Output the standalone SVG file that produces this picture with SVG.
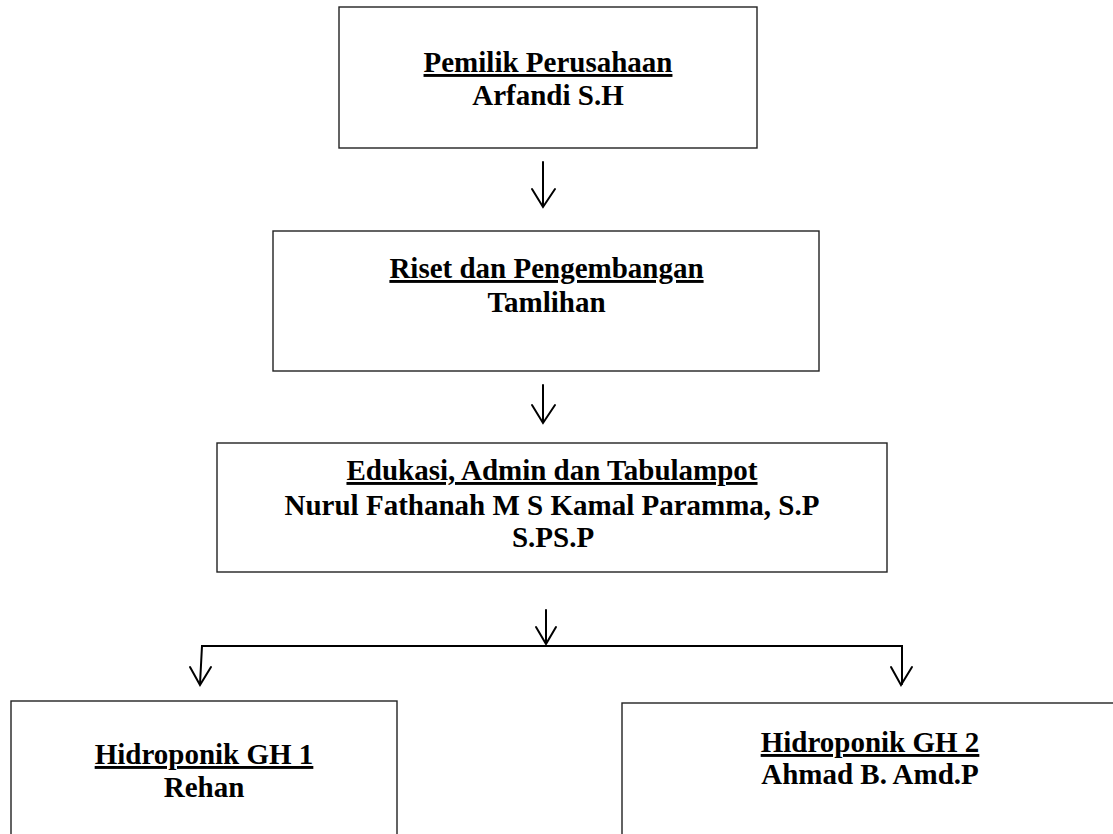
<svg xmlns="http://www.w3.org/2000/svg" width="1113" height="834" viewBox="0 0 1113 834">
<style>
.box{fill:#fff;stroke:#222;stroke-width:1.4}
.t{font-family:"Liberation Serif","Times New Roman",serif;font-weight:bold;font-size:29px;fill:#000;text-anchor:middle}
.u{text-decoration:underline}
.c{fill:none;stroke:#000;stroke-width:2;stroke-linecap:round;stroke-linejoin:miter}
</style>
<rect width="1113" height="834" fill="#fff"/>
<g id="connectors">
<path class="c" d="M543 162 V206 M532 189 L543 207 L555 189"/>
<path class="c" d="M543 385 V422 M532 405 L543 423 L555 405"/>
<path class="c" d="M546 610 V643 M536 627 L546 644 L556 627"/>
<path class="c" d="M200 684 L202 646 H902 V684"/>
<path class="c" d="M190 667 L200 685 L211 667"/>
<path class="c" d="M891 667 L901 685 L912 667"/>
</g>
<g id="pemilik">
<rect class="box" x="339" y="7" width="418" height="141"/>
<text class="t u" x="548" y="72">Pemilik Perusahaan</text>
<text class="t" x="548" y="105">Arfandi S.H</text>
</g>
<g id="riset">
<rect class="box" x="273" y="231" width="546" height="140"/>
<text class="t u" x="546.5" y="278">Riset dan Pengembangan</text>
<text class="t" x="546.5" y="312">Tamlihan</text>
</g>
<g id="edukasi">
<rect class="box" x="217" y="443" width="670" height="129"/>
<text class="t u" x="552" y="480">Edukasi, Admin dan Tabulampot</text>
<text class="t" x="552" y="515">Nurul Fathanah M S Kamal Paramma, S.P</text>
<text class="t" x="553" y="547">S.PS.P</text>
</g>
<g id="gh1">
<rect class="box" x="11" y="701" width="386" height="150"/>
<text class="t u" x="204" y="764">Hidroponik GH 1</text>
<text class="t" x="204" y="797">Rehan</text>
</g>
<g id="gh2">
<rect class="box" x="622" y="703" width="500" height="150"/>
<text class="t u" x="870" y="752">Hidroponik GH 2</text>
<text class="t" x="870" y="784">Ahmad B. Amd.P</text>
</g>
</svg>
